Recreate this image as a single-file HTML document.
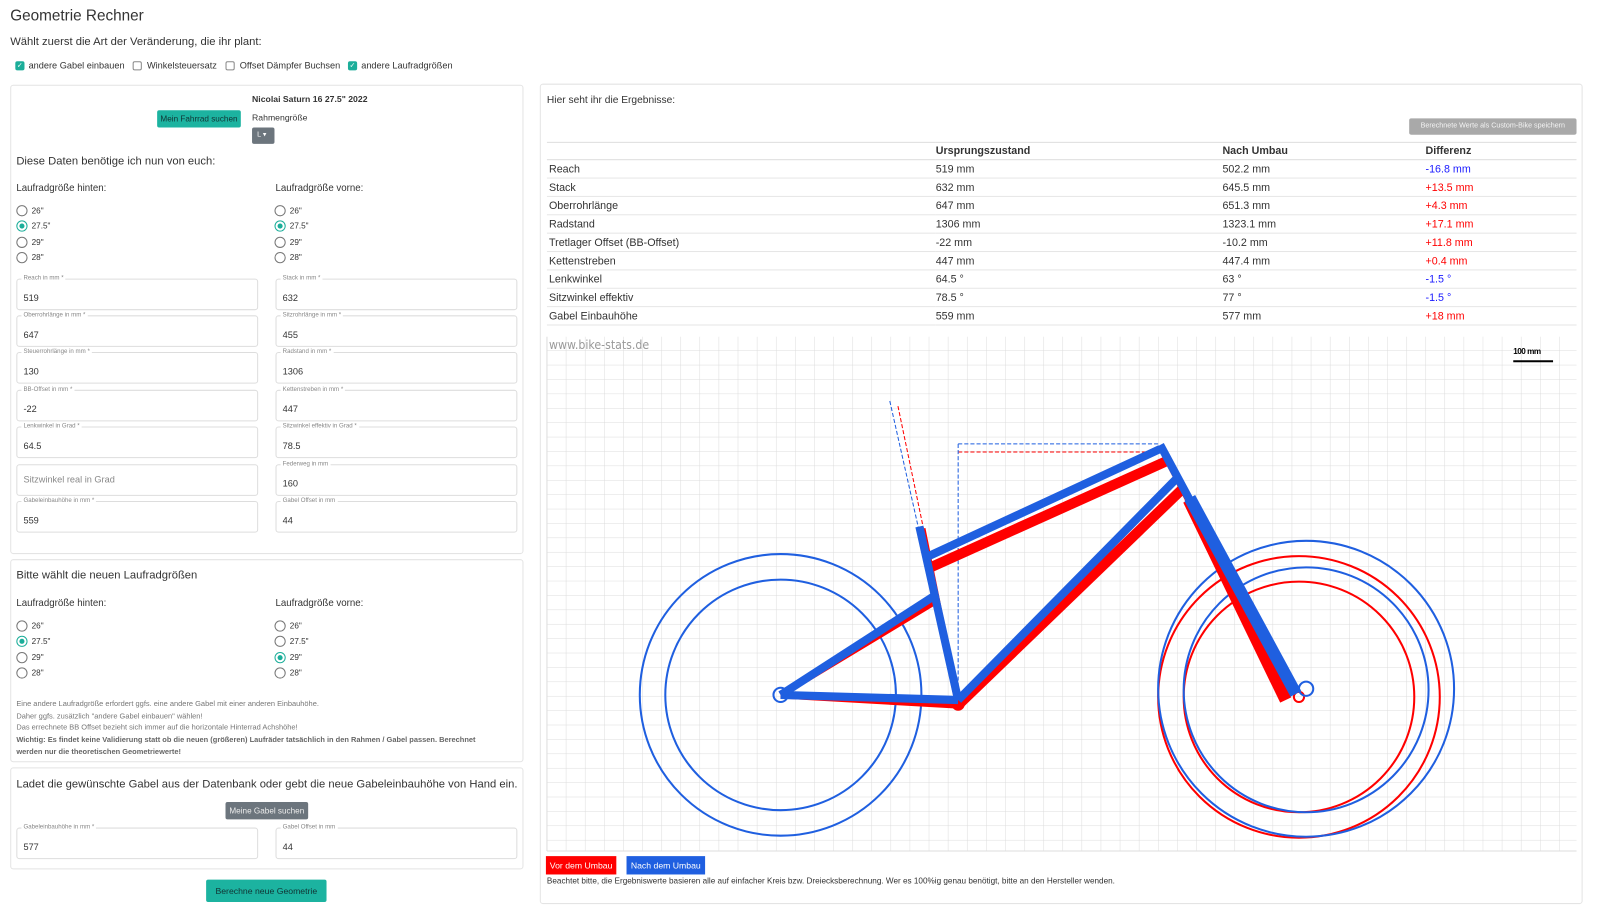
<!DOCTYPE html>
<html><head><meta charset="utf-8"><style>
*{box-sizing:border-box}
body{margin:0;width:1600px;height:909px;background:#fff;font-family:"Liberation Sans",sans-serif;color:#333;position:relative;overflow:hidden}
#w{position:absolute;left:0;top:0;width:1568px;height:891px;transform:scale(1.0204);transform-origin:0 0}
.a{position:absolute;white-space:nowrap}
.card{position:absolute;border:1px solid #e4e4e4;border-radius:3px;background:#fff}
.cb{position:absolute;width:9px;height:9px;border:1px solid #888;border-radius:2px;background:#fff;font-size:7px;color:#fff;line-height:8px;text-align:center}
.cb.on{background:#1cae9a;border-color:#1cae9a}
.rd{position:absolute;width:11px;height:11px;border:1px solid #777;border-radius:50%;background:#fff}
.rd.on{border-color:#1cae9a}
.rd.on::after{content:"";position:absolute;left:2px;top:2px;width:5px;height:5px;border-radius:50%;background:#1cae9a}
.rl{position:absolute;font-size:8px;color:#333}
.fld{position:absolute;width:237px;height:31px;border:1px solid #ddd;border-radius:3px}
.fl{position:absolute;left:4px;top:-5px;background:#fff;padding:0 2px;font-size:6px;color:#888;line-height:9px}
.fv{position:absolute;left:6px;top:13px;font-size:9px;color:#333}
td{padding:0}
</style></head><body><div id="w">
<div class="a" style="left:10px;top:7px;font-size:15px;color:#333">Geometrie Rechner</div>
<div class="a" style="left:10px;top:35px;font-size:11px">Wählt zuerst die Art der Veränderung, die ihr plant:</div>
<div class="cb on" style="left:15px;top:60px">✓</div><div class="a" style="left:28px;top:59px;font-size:9px">andere Gabel einbauen</div>
<div class="cb" style="left:130px;top:60px"></div><div class="a" style="left:144px;top:59px;font-size:9px">Winkelsteuersatz</div>
<div class="cb" style="left:221px;top:60px"></div><div class="a" style="left:235px;top:59px;font-size:9px">Offset Dämpfer Buchsen</div>
<div class="cb on" style="left:341px;top:60px">✓</div><div class="a" style="left:354px;top:59px;font-size:9px">andere Laufradgrößen</div>

<div class="card" style="left:10px;top:83px;width:503px;height:460px"></div>
<div class="a" style="left:154px;top:108px;width:82px;height:17px;background:#1cb3a0;border-radius:2px;font-size:8px;color:#133;text-align:center;line-height:17px">Mein Fahrrad suchen</div>
<div class="a" style="left:247px;top:92px;font-size:8.5px;font-weight:bold">Nicolai Saturn 16 27.5" 2022</div>
<div class="a" style="left:247px;top:110px;font-size:8.5px">Rahmengröße</div>
<div class="a" style="left:247px;top:125px;width:22px;height:16px;background:#6c757d;border-radius:2px;font-size:7px;color:#fff;line-height:16px;padding-left:5px">L ▾</div>
<div class="a" style="left:16px;top:152px;font-size:11px">Diese Daten benötige ich nun von euch:</div>
<div class="a" style="left:16px;top:179px;font-size:9.5px">Laufradgröße hinten:</div>
<div class="a" style="left:270px;top:179px;font-size:9.5px">Laufradgröße vorne:</div>

<div class="rd" style="left:16px;top:201px"></div><div class="rl" style="left:31px;top:202px">26"</div>
<div class="rd on" style="left:16px;top:216px"></div><div class="rl" style="left:31px;top:217px">27.5"</div>
<div class="rd" style="left:16px;top:232px"></div><div class="rl" style="left:31px;top:233px">29"</div>
<div class="rd" style="left:16px;top:247px"></div><div class="rl" style="left:31px;top:248px">28"</div>
<div class="rd" style="left:269px;top:201px"></div><div class="rl" style="left:284px;top:202px">26"</div>
<div class="rd on" style="left:269px;top:216px"></div><div class="rl" style="left:284px;top:217px">27.5"</div>
<div class="rd" style="left:269px;top:232px"></div><div class="rl" style="left:284px;top:233px">29"</div>
<div class="rd" style="left:269px;top:247px"></div><div class="rl" style="left:284px;top:248px">28"</div>

<div class="fld" style="left:16px;top:273px"><span class="fl">Reach in mm *</span><span class="fv">519</span></div>
<div class="fld" style="left:270px;top:273px"><span class="fl">Stack in mm *</span><span class="fv">632</span></div>
<div class="fld" style="left:16px;top:309px"><span class="fl">Oberrohrlänge in mm *</span><span class="fv">647</span></div>
<div class="fld" style="left:270px;top:309px"><span class="fl">Sitzrohrlänge in mm *</span><span class="fv">455</span></div>
<div class="fld" style="left:16px;top:345px"><span class="fl">Steuerrohrlänge in mm *</span><span class="fv">130</span></div>
<div class="fld" style="left:270px;top:345px"><span class="fl">Radstand in mm *</span><span class="fv">1306</span></div>
<div class="fld" style="left:16px;top:382px"><span class="fl">BB-Offset in mm *</span><span class="fv">-22</span></div>
<div class="fld" style="left:270px;top:382px"><span class="fl">Kettenstreben in mm *</span><span class="fv">447</span></div>
<div class="fld" style="left:16px;top:418px"><span class="fl">Lenkwinkel in Grad *</span><span class="fv">64.5</span></div>
<div class="fld" style="left:270px;top:418px"><span class="fl">Sitzwinkel effektiv in Grad *</span><span class="fv">78.5</span></div>
<div class="fld" style="left:16px;top:455px"><span class="fv" style="color:#888;top:9px">Sitzwinkel real in Grad</span></div>
<div class="fld" style="left:270px;top:455px"><span class="fl">Federweg in mm</span><span class="fv">160</span></div>
<div class="fld" style="left:16px;top:491px"><span class="fl">Gabeleinbauhöhe in mm *</span><span class="fv">559</span></div>
<div class="fld" style="left:270px;top:491px"><span class="fl">Gabel Offset in mm</span><span class="fv">44</span></div>

<div class="card" style="left:10px;top:548px;width:503px;height:199px"></div>
<div class="a" style="left:16px;top:558px;font-size:11px">Bitte wählt die neuen Laufradgrößen</div>
<div class="a" style="left:16px;top:586px;font-size:9.5px">Laufradgröße hinten:</div>
<div class="a" style="left:270px;top:586px;font-size:9.5px">Laufradgröße vorne:</div>
<div class="rd" style="left:16px;top:608px"></div><div class="rl" style="left:31px;top:609px">26"</div>
<div class="rd on" style="left:16px;top:623px"></div><div class="rl" style="left:31px;top:624px">27.5"</div>
<div class="rd" style="left:16px;top:639px"></div><div class="rl" style="left:31px;top:640px">29"</div>
<div class="rd" style="left:16px;top:654px"></div><div class="rl" style="left:31px;top:655px">28"</div>
<div class="rd" style="left:269px;top:608px"></div><div class="rl" style="left:284px;top:609px">26"</div>
<div class="rd" style="left:269px;top:623px"></div><div class="rl" style="left:284px;top:624px">27.5"</div>
<div class="rd on" style="left:269px;top:639px"></div><div class="rl" style="left:284px;top:640px">29"</div>
<div class="rd" style="left:269px;top:654px"></div><div class="rl" style="left:284px;top:655px">28"</div>
<div class="a" style="left:16px;top:684px;font-size:7.3px;color:#777;line-height:11.7px">Eine andere Laufradgröße erfordert ggfs. eine andere Gabel mit einer anderen Einbauhöhe.<br>Daher ggfs. zusätzlich "andere Gabel einbauen" wählen!<br>Das errechnete BB Offset bezieht sich immer auf die horizontale Hinterrad Achshöhe!<br><b style="color:#666">Wichtig: Es findet keine Validierung statt ob die neuen (größeren) Laufräder tatsächlich in den Rahmen / Gabel passen. Berechnet<br>werden nur die theoretischen Geometriewerte!</b></div>

<div class="card" style="left:10px;top:752px;width:503px;height:100px"></div>
<div class="a" style="left:16px;top:763px;font-size:11px">Ladet die gewünschte Gabel aus der Datenbank oder gebt die neue Gabeleinbauhöhe von Hand ein.</div>
<div class="a" style="left:221px;top:786px;width:81px;height:17px;background:#6c757d;border-radius:2px;font-size:8px;color:#eee;text-align:center;line-height:17px">Meine Gabel suchen</div>
<div class="fld" style="left:16px;top:811px"><span class="fl">Gabeleinbauhöhe in mm *</span><span class="fv">577</span></div>
<div class="fld" style="left:270px;top:811px"><span class="fl">Gabel Offset in mm</span><span class="fv">44</span></div>
<div class="a" style="left:202px;top:862px;width:118px;height:22px;background:#1cb3a0;border-radius:2px;font-size:8.5px;color:#133;text-align:center;line-height:22px">Berechne neue Geometrie</div>

<div class="card" style="left:529px;top:82px;width:1022px;height:804px"></div>
<div class="a" style="left:536px;top:93px;font-size:10px">Hier seht ihr die Ergebnisse:</div>
<div class="a" style="left:1381px;top:116px;width:164px;height:16px;background:#a9a9a9;border-radius:2px;font-size:7px;color:#f4f4f4;text-align:center;line-height:16px">Berechnete Werte als Custom-Bike speichern</div>
<table class="a" style="left:536px;top:139px;width:1009px;border-collapse:collapse;font-size:10.5px">
<colgroup><col style="width:381px"><col style="width:281px"><col style="width:199px"><col></colgroup>
<tr style="height:17px;border-top:1px solid #ddd;border-bottom:1px solid #ddd;font-weight:bold"><td></td><td>Ursprungszustand</td><td>Nach Umbau</td><td>Differenz</td></tr>
<tr style="height:18px;border-bottom:1px solid #e6e6e6"><td style="padding-left:2px">Reach</td><td>519 mm</td><td>502.2 mm</td><td style="color:#1a1aff">-16.8 mm</td></tr>
<tr style="height:18px;border-bottom:1px solid #e6e6e6"><td style="padding-left:2px">Stack</td><td>632 mm</td><td>645.5 mm</td><td style="color:#f00">+13.5 mm</td></tr>
<tr style="height:18px;border-bottom:1px solid #e6e6e6"><td style="padding-left:2px">Oberrohrlänge</td><td>647 mm</td><td>651.3 mm</td><td style="color:#f00">+4.3 mm</td></tr>
<tr style="height:18px;border-bottom:1px solid #e6e6e6"><td style="padding-left:2px">Radstand</td><td>1306 mm</td><td>1323.1 mm</td><td style="color:#f00">+17.1 mm</td></tr>
<tr style="height:18px;border-bottom:1px solid #e6e6e6"><td style="padding-left:2px">Tretlager Offset (BB-Offset)</td><td>-22 mm</td><td>-10.2 mm</td><td style="color:#f00">+11.8 mm</td></tr>
<tr style="height:18px;border-bottom:1px solid #e6e6e6"><td style="padding-left:2px">Kettenstreben</td><td>447 mm</td><td>447.4 mm</td><td style="color:#f00">+0.4 mm</td></tr>
<tr style="height:18px;border-bottom:1px solid #e6e6e6"><td style="padding-left:2px">Lenkwinkel</td><td>64.5 °</td><td>63 °</td><td style="color:#1a1aff">-1.5 °</td></tr>
<tr style="height:18px;border-bottom:1px solid #e6e6e6"><td style="padding-left:2px">Sitzwinkel effektiv</td><td>78.5 °</td><td>77 °</td><td style="color:#1a1aff">-1.5 °</td></tr>
<tr style="height:18px;border-bottom:1px solid #e6e6e6"><td style="padding-left:2px">Gabel Einbauhöhe</td><td>559 mm</td><td>577 mm</td><td style="color:#f00">+18 mm</td></tr>
</table>

<svg class="a" style="left:0;top:0" width="1568" height="891">
<defs><pattern id="g" x="535.8" y="329.3" width="18.72" height="14.11" patternUnits="userSpaceOnUse"><path d="M0 0V14.11M0 0H18.72" stroke="#dcdcdc" stroke-width="1" fill="none"/></pattern></defs>
<rect x="536" y="330" width="1009" height="504" fill="url(#g)"/>
<line x1="536" y1="330" x2="536" y2="834" stroke="#ddd"/>
<line x1="536" y1="834" x2="1545" y2="834" stroke="#ddd"/>
<text x="538" y="342" font-family="DejaVu Sans Condensed, DejaVu Sans, sans-serif" font-size="12" fill="#999">www.bike-stats.de</text>
<text x="1483" y="347" font-family="Liberation Sans" font-size="8" font-weight="bold" fill="#000" letter-spacing="-0.5">100 mm</text>
<line x1="1483" y1="354" x2="1522" y2="354" stroke="#000" stroke-width="2"/>
<g fill="none" stroke-width="2">
<circle cx="765" cy="681" r="138" stroke="#1f5fe0"/>
<circle cx="765" cy="681" r="113" stroke="#1f5fe0"/>
<circle cx="1273" cy="683" r="138" stroke="#f00"/>
<circle cx="1273" cy="683" r="113" stroke="#f00"/>
<circle cx="1280" cy="675" r="145" stroke="#1f5fe0"/>
<circle cx="1280" cy="676" r="120" stroke="#1f5fe0"/>
</g>
<g stroke-width="1" fill="none" stroke-dasharray="4,2">
<line x1="880" y1="398" x2="905" y2="518" stroke="#f00"/>
<line x1="872" y1="393" x2="900" y2="517" stroke="#1f5fe0"/>
<line x1="939" y1="443" x2="1142" y2="443" stroke="#f00"/>
<line x1="939" y1="435" x2="1137" y2="435" stroke="#1f5fe0"/>
<line x1="939" y1="435" x2="939" y2="686" stroke="#1f5fe0"/>
</g>
<g stroke="#f00" stroke-linecap="butt">
<line x1="765" y1="681" x2="939" y2="691" stroke-width="7"/>
<line x1="765" y1="681" x2="916" y2="590" stroke-width="6"/>
<line x1="939" y1="691" x2="904" y2="518" stroke-width="6"/>
<line x1="912" y1="556" x2="1143" y2="452" stroke-width="10"/>
<line x1="939" y1="691" x2="1160" y2="478" stroke-width="10"/>
<line x1="1143" y1="448" x2="1165" y2="490" stroke-width="7"/>
<line x1="1165" y1="490" x2="1260" y2="686" stroke-width="12"/>
<circle cx="939" cy="690" r="6" fill="#f00"/>
<circle cx="1273" cy="683" r="5" fill="none" stroke-width="2"/>
</g>
<g stroke="#1f5fe0" stroke-linecap="butt">
<line x1="765" y1="681" x2="939" y2="686" stroke-width="8"/>
<line x1="765" y1="681" x2="914" y2="585" stroke-width="8"/>
<line x1="939" y1="686" x2="901" y2="516" stroke-width="8"/>
<line x1="908" y1="546" x2="1137" y2="440" stroke-width="8"/>
<line x1="939" y1="686" x2="1152" y2="470" stroke-width="8"/>
<line x1="1137" y1="436" x2="1166" y2="490" stroke-width="8"/>
<line x1="1166" y1="488" x2="1270" y2="680" stroke-width="12"/>
<circle cx="765" cy="681" r="7" fill="none" stroke-width="2"/>
<circle cx="1280" cy="675" r="7" fill="none" stroke-width="2"/>
</g>
</svg>
<div class="a" style="left:535px;top:839px;width:69px;height:18px;background:#f00;color:#fff;font-size:8.5px;line-height:18px;text-align:center">Vor dem Umbau</div>
<div class="a" style="left:614px;top:839px;width:77px;height:18px;background:#1f5fe0;color:#fff;font-size:8.5px;line-height:18px;text-align:center">Nach dem Umbau</div>
<div class="a" style="left:536px;top:859px;font-size:8px;color:#333">Beachtet bitte, die Ergebniswerte basieren alle auf einfacher Kreis bzw. Dreiecksberechnung. Wer es 100%ig genau benötigt, bitte an den Hersteller wenden.</div>
</div></body></html>
